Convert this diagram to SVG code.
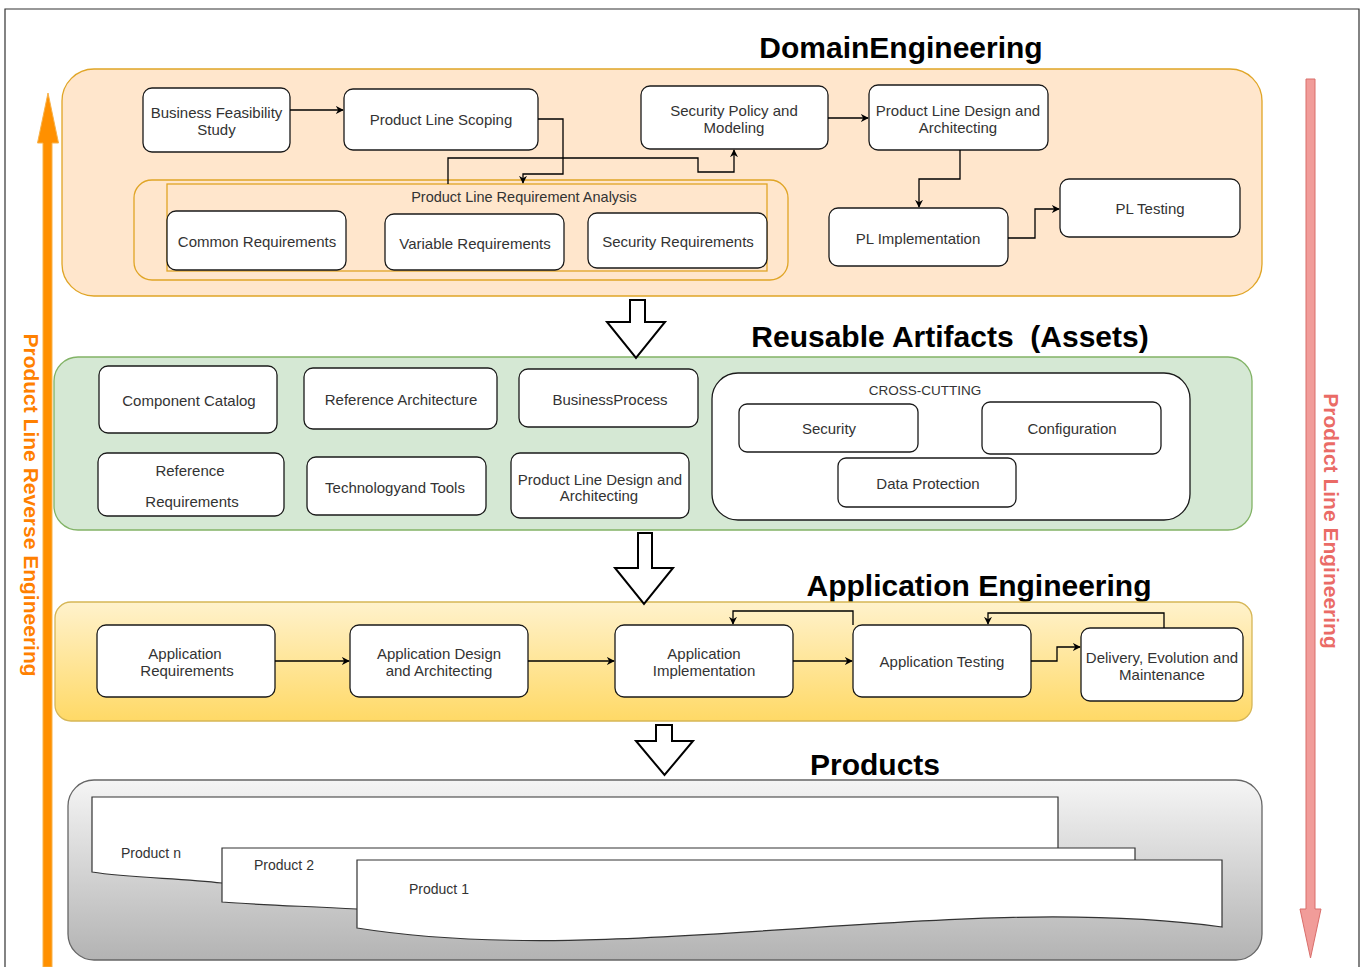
<svg xmlns="http://www.w3.org/2000/svg" width="1365" height="967" viewBox="0 0 1365 967">
<defs>
<style>
.node{fill:#ffffff;stroke:#1a1a1a;stroke-width:1.3}
.t{font-family:"Liberation Sans",Arial,sans-serif;font-size:15px;fill:#333333;text-anchor:middle;dominant-baseline:central}
.title{font-family:"Liberation Sans",Arial,sans-serif;font-size:30px;font-weight:bold;fill:#000000;text-anchor:middle}
.pt{font-family:"Liberation Sans",Arial,sans-serif;font-size:14px;fill:#333333}
.conn{fill:none;stroke:#000000;stroke-width:1.3}
.block{fill:#ffffff;stroke:#000000;stroke-width:2}
.doc{fill:#ffffff;stroke:#333333;stroke-width:1.2}
</style>
<marker id="ah" viewBox="0 0 10 10" refX="9" refY="5" markerWidth="8" markerHeight="8" markerUnits="userSpaceOnUse" orient="auto">
<path d="M0,0 L10,5 L0,10 L3,5 Z" fill="#000"/>
</marker>
<linearGradient id="gApp" x1="0" y1="0" x2="0" y2="1">
<stop offset="0" stop-color="#fff2cc"/>
<stop offset="1" stop-color="#ffd966"/>
</linearGradient>
<linearGradient id="gProd" x1="0" y1="0" x2="0" y2="1">
<stop offset="0" stop-color="#f5f5f5"/>
<stop offset="1" stop-color="#b3b3b3"/>
</linearGradient>
</defs>

<rect width="1365" height="967" fill="#ffffff"/>
<path d="M5,975 V9 H1359 V975" fill="none" stroke="#333" stroke-width="1.2"/>

<!-- side arrows -->
<g id="reverse-arrow">
<path d="M43,967 V143 H37.5 L48,93 L58.5,143 H52 V967 Z" fill="#ff9000" stroke="#f7b24a" stroke-width="1"/>
<text transform="translate(31,505) rotate(90)" font-family="Liberation Sans,Arial,sans-serif" font-size="21" font-weight="bold" fill="#ff8000" text-anchor="middle" dominant-baseline="central">Product Line Reverse Engineering</text>
</g>
<g id="forward-arrow">
<path d="M1306,79 H1315 V909 H1321 L1310.5,958 L1300,909 H1306 Z" fill="#f19c99" stroke="#d96e6b" stroke-width="1"/>
<text transform="translate(1331,521) rotate(90)" font-family="Liberation Sans,Arial,sans-serif" font-size="21" font-weight="bold" fill="#ea6b66" text-anchor="middle" dominant-baseline="central">Product Line  Engineering</text>
</g>

<!-- Domain Engineering -->
<g id="domain">
<text class="title" x="901" y="58">DomainEngineering</text>
<rect x="62" y="69" width="1200" height="227" rx="32" fill="#ffe6cc" stroke="#e0a526" stroke-width="1.3"/>
<rect x="134" y="180" width="654" height="100" rx="18" fill="#ffe6cc" stroke="#e0a526" stroke-width="1.3"/>
<rect x="167" y="184" width="600" height="87" fill="none" stroke="#e0a526" stroke-width="1.3"/>
<text class="t" x="524" y="197" style="font-size:14.5px">Product Line Requirement Analysis</text>
</g>
<g id="n-bfs"><rect class="node" x="143" y="88" width="147" height="64" rx="9"/><text class="t" x="216.5" y="112">Business Feasibility</text><text class="t" x="216.5" y="129">Study</text></g>
<g id="n-pls"><rect class="node" x="344" y="89" width="194" height="61" rx="9"/><text class="t" x="441" y="119">Product Line Scoping</text></g>
<g id="n-spm"><rect class="node" x="641" y="86" width="187" height="63" rx="9"/><text class="t" x="734" y="110">Security Policy and</text><text class="t" x="734" y="127">Modeling</text></g>
<g id="n-plda"><rect class="node" x="869" y="85" width="179" height="65" rx="9"/><text class="t" x="958" y="110">Product Line Design and</text><text class="t" x="958" y="127">Architecting</text></g>
<g id="n-plt"><rect class="node" x="1060" y="179" width="180" height="58" rx="9"/><text class="t" x="1150" y="208">PL Testing</text></g>
<g id="n-pli"><rect class="node" x="829" y="208" width="179" height="58" rx="9"/><text class="t" x="918" y="238">PL Implementation</text></g>
<g id="n-cr"><rect class="node" x="167" y="211" width="179" height="59" rx="9"/><text class="t" x="257" y="241">Common Requirements</text></g>
<g id="n-vr"><rect class="node" x="385" y="214" width="179" height="56" rx="9"/><text class="t" x="475" y="243">Variable Requirements</text></g>
<g id="n-sr"><rect class="node" x="588" y="213" width="179" height="55" rx="9"/><text class="t" x="678" y="241">Security Requirements</text></g>

<!-- Reusable Artifacts -->
<g id="reusable">
<text class="title" x="950" y="347" xml:space="preserve">Reusable Artifacts  (Assets)</text>
<rect x="54" y="357" width="1198" height="173" rx="24" fill="#d5e8d4" stroke="#82b366" stroke-width="1.3"/>
</g>
<g id="n-cc"><rect class="node" x="99" y="366" width="178" height="67" rx="9"/><text class="t" x="189" y="400">Component Catalog</text></g>
<g id="n-ra"><rect class="node" x="304" y="368" width="193" height="61" rx="9"/><text class="t" x="401" y="399">Reference Architecture</text></g>
<g id="n-bp"><rect class="node" x="519" y="369" width="179" height="58" rx="9"/><text class="t" x="610" y="399">BusinessProcess</text></g>
<g id="n-rr"><rect class="node" x="98" y="453" width="186" height="63" rx="9"/><text class="t" x="190" y="470">Reference</text><text class="t" x="192" y="501">Requirements</text></g>
<g id="n-tt"><rect class="node" x="307" y="457" width="179" height="58" rx="9"/><text class="t" x="395" y="487">Technologyand Tools</text></g>
<g id="n-plda2"><rect class="node" x="511" y="453" width="178" height="65" rx="9"/><text class="t" x="600" y="479">Product Line Design and</text><text class="t" x="599" y="495">Architecting</text></g>
<g id="crosscutting"><rect class="node" x="712" y="373" width="478" height="147" rx="26"/><text class="t" x="925" y="390" style="font-size:13.5px">CROSS-CUTTING</text></g>
<g id="n-sec"><rect class="node" x="739" y="404" width="179" height="48" rx="8"/><text class="t" x="829" y="428">Security</text></g>
<g id="n-conf"><rect class="node" x="982" y="402" width="179" height="52" rx="8"/><text class="t" x="1072" y="428">Configuration</text></g>
<g id="n-dp"><rect class="node" x="838" y="458" width="178" height="49" rx="8"/><text class="t" x="928" y="483">Data Protection</text></g>

<!-- Application Engineering -->
<g id="application">
<text class="title" x="979" y="596">Application Engineering</text>
<rect x="55" y="602" width="1197" height="119" rx="16" fill="url(#gApp)" stroke="#d6b656" stroke-width="1.3"/>
</g>
<g id="n-ar"><rect class="node" x="97" y="625" width="178" height="72" rx="9"/><text class="t" x="185" y="653">Application</text><text class="t" x="187" y="670">Requirements</text></g>
<g id="n-ada"><rect class="node" x="350" y="625" width="178" height="72" rx="9"/><text class="t" x="439" y="653">Application Design</text><text class="t" x="439" y="670">and Architecting</text></g>
<g id="n-ai"><rect class="node" x="615" y="625" width="178" height="72" rx="9"/><text class="t" x="704" y="653">Application</text><text class="t" x="704" y="670">Implementation</text></g>
<g id="n-at"><rect class="node" x="853" y="625" width="178" height="72" rx="9"/><text class="t" x="942" y="661">Application Testing</text></g>
<g id="n-dem"><rect class="node" x="1081" y="628" width="162" height="73" rx="9"/><text class="t" x="1162" y="657">Delivery, Evolution and</text><text class="t" x="1162" y="674">Maintenance</text></g>

<!-- Products -->
<g id="products">
<text class="title" x="875" y="775">Products</text>
<rect x="68" y="780" width="1194" height="180" rx="26" fill="url(#gProd)" stroke="#666666" stroke-width="1.3"/>
</g>
<g id="p-n"><path class="doc" d="M92,797 H1058 V900 C800,930 400,930 222,883 C180,878 130,878 92,872 Z"/><text class="pt" x="121" y="858">Product n</text></g>
<g id="p-2"><path class="doc" d="M222,848 H1135 V905 C900,880 600,940 357,909 C300,906 260,905 222,902 Z"/><text class="pt" x="254" y="870">Product 2</text></g>
<g id="p-1"><path class="doc" d="M357,860 H1222 V927 C950,890 620,970 357,928 Z"/><text class="pt" x="409" y="894">Product 1</text></g>

<!-- connectors -->
<g id="connectors">
<path class="conn" d="M290,110 H343" marker-end="url(#ah)"/>
<path class="conn" d="M538,119 H563 V174 H523 V183" marker-end="url(#ah)"/>
<path class="conn" d="M448,184 V158 H698 V172 H734 V150" marker-end="url(#ah)"/>
<path class="conn" d="M828,118 H868" marker-end="url(#ah)"/>
<path class="conn" d="M960,150 V179 H919 V207" marker-end="url(#ah)"/>
<path class="conn" d="M1008,238 H1035 V209 H1059" marker-end="url(#ah)"/>
<path class="conn" d="M275,661 H349" marker-end="url(#ah)"/>
<path class="conn" d="M528,661 H614" marker-end="url(#ah)"/>
<path class="conn" d="M793,661 H852" marker-end="url(#ah)"/>
<path class="conn" d="M1031,661 H1057 V647 H1080" marker-end="url(#ah)"/>
<path class="conn" d="M853,625 V611 H733 V624" marker-end="url(#ah)"/>
<path class="conn" d="M1164,628 V613 H988 V624" marker-end="url(#ah)"/>
<path class="block" d="M630,300 H645 V322 H665 L636,358 L607,322 H630 Z"/>
<path class="block" d="M638,533 H652 V568 H673 L644,604 L615,568 H638 Z"/>
<path class="block" d="M656,725 H672 V741 H693 L664.5,775 L636,741 H656 Z"/>
</g>
</svg>
